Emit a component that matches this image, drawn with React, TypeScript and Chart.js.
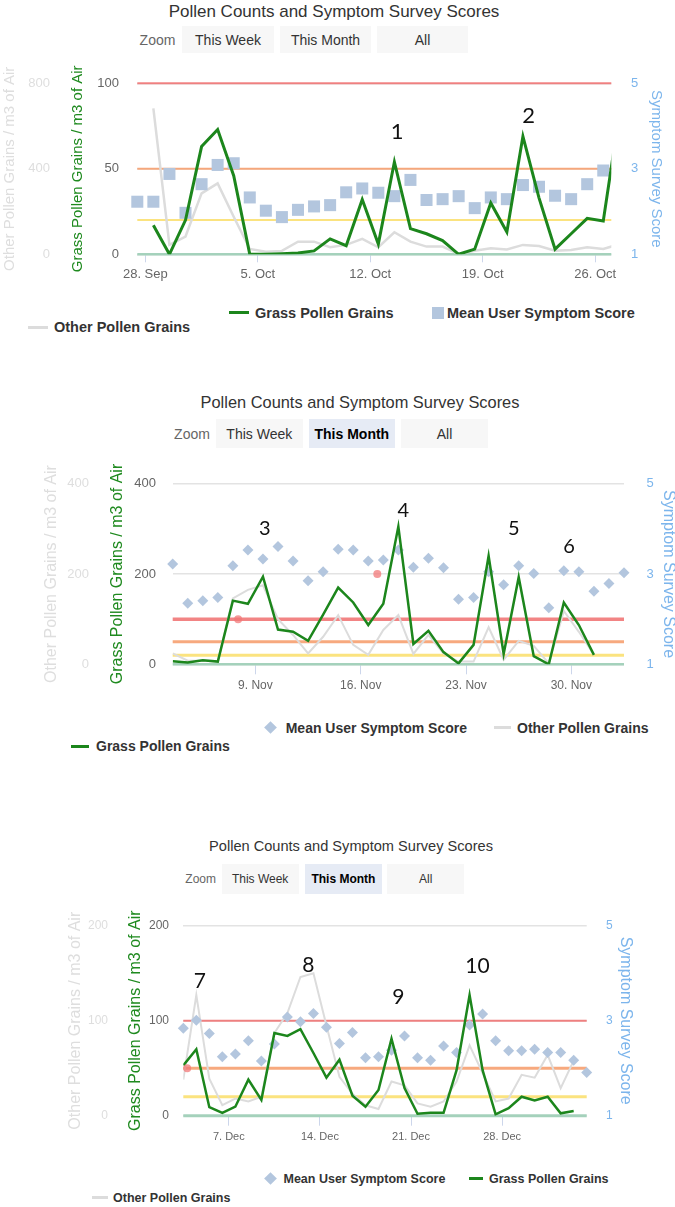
import React, { useEffect, useRef } from "react";
import { Chart, registerables } from "chart.js";

Chart.register(...registerables);

const FONT = "'Liberation Sans', Arial, Helvetica, sans-serif";
const NOTE_FONT = "Lato, 'Open Sans', sans-serif";
Chart.defaults.font.family = FONT;

// ---------------- shared text ----------------
const chartTitle = "Pollen Counts and Symptom Survey Scores";
const zoomButtons = ["This Week", "This Month", "All"];
const grassLabel = "Grass Pollen Grains";
const otherLabel = "Other Pollen Grains";
const scoreLabel = "Mean User Symptom Score";
const grassAxisTitle = "Grass Pollen Grains / m3 of Air";
const otherAxisTitle = "Other Pollen Grains / m3 of Air";
const scoreAxisTitle = "Symptom Survey Score";
const thresholdLevels = [100, 50, 20, 0];
const scoreTicks = [1, 3, 5];

// ---------------- chart 1 : Sep / Oct (day 0 = 28 Sep) ----------------
const octTickDays = [0, 7, 14, 21, 28];
const octTickLabels = ["28. Sep", "5. Oct", "12. Oct", "19. Oct", "26. Oct"];
const octGrassTicks = [0, 50, 100];
const octOtherTicks = [0, 400, 800];
const octGrassFirstDay = 0.5;
const octGrass = [17, 0, 20, 63, 73, 46, 0, 0, 0.3, 0.8, 2, 9, 5, 32, 6, 54, 15, 12, 8, 0, 3, 30, 13, 69, 33, 3, 12, 21, 19.5, 82];
const octOtherFirstDay = 0.5;
const octOther = [683, 44, 83, 285, 332, 176, 25, 12, 16, 59, 59, 33, 44, 72, 33, 103, 59, 36, 36, 2, 17, 28, 23, 44, 39, 17, 20, 33, 25, 47];
const octScoreFirstDay = -0.5;
const octScore = [2.23, 2.23, 2.88, 1.97, 2.64, 3.09, 3.13, 2.33, 2.02, 1.87, 2.04, 2.12, 2.15, 2.45, 2.54, 2.44, 2.36, 2.74, 2.27, 2.29, 2.36, 2.08, 2.33, 2.29, 2.62, 2.58, 2.37, 2.29, 2.64, 2.96];
const octDotDays: number[] = [];
const octDotLevels: number[] = [];
const octNoteTexts = ["1", "2"];
const octNoteDays = [15.67, 23.85];
const octNoteLevels = [71.5, 81];

// ---------------- chart 2 : Nov (day 0 = 9 Nov) ----------------
const novTickDays = [0, 7, 14, 21];
const novTickLabels = ["9. Nov", "16. Nov", "23. Nov", "30. Nov"];
const novGrassTicks = [0, 200, 400];
const novOtherTicks = [0, 200, 400];
const novGrassFirstDay = -5.5;
const novGrass = [7, 4, 9, 6, 141, 134, 194, 77, 72, 52, 110, 170, 137, 87, 134, 305, 45, 74, 27, 2, 43, 240, 23, 193, 18, 0, 137, 87, 21];
const novOtherFirstDay = -5.5;
const novOther = [24, 8, 8, 6, 146, 165, 175, 100, 65, 24, 61, 109, 43, 21, 76, 109, 23, 65, 24, 6, 6, 82, 10, 52, 41, 2, 118, 72, 21];
const novScoreFirstDay = -5.5;
const novScore = [3.22, 2.35, 2.41, 2.48, 3.18, 3.53, 3.33, 3.61, 3.29, 2.85, 3.05, 3.55, 3.53, 3.29, 3.31, 3.53, 3.15, 3.35, 3.14, 2.44, 2.48, 3.05, 2.76, 3.18, 3.01, 2.25, 3.07, 3.05, 2.62, 2.79, 3.03];
const novDotDays = [-1.15, 8.1];
const novDotLevels = [100, 200];
const novNoteTexts = ["3", "4", "5", "6"];
const novNoteDays = [0.62, 9.83, 17.18, 20.85];
const novNoteLevels = [300, 341, 300, 261];

// ---------------- chart 3 : Dec (day 0 = 7 Dec) ----------------
const decTickDays = [0, 7, 14, 21];
const decTickLabels = ["7. Dec", "14. Dec", "21. Dec", "28. Dec"];
const decGrassTicks = [0, 100, 200];
const decOtherTicks = [0, 100, 200];
const decGrassFirstDay = -3.5;
const decGrass = [53, 70, 9, 3, 9.5, 38, 16.5, 87, 84, 91, 66, 40, 59, 21, 9.5, 27, 81, 29, 2, 3, 3, 48, 127, 48, 1.5, 8, 20, 16, 20, 2.5, 5];
const decOtherFirstDay = -3.5;
const decOther = [38, 127, 39, 11, 18, 15, 20, 87, 108, 146, 150, 95, 41, 23, 11, 7, 36, 32, 13, 9.5, 15, 36, 74, 45, 15, 18, 43, 40, 64, 29, 58];
const decScoreFirstDay = -3.5;
const decScore = [2.84, 3.01, 2.73, 2.24, 2.3, 2.58, 2.15, 2.51, 3.08, 2.98, 3.15, 2.86, 2.52, 2.75, 2.22, 2.24, 2.38, 2.68, 2.22, 2.17, 2.47, 2.33, 2.91, 3.14, 2.58, 2.37, 2.37, 2.4, 2.33, 2.33, 2.17, 1.91];
const decDotDays = [-3.2];
const decDotLevels = [50];
const decNoteTexts = ["7", "8", "9", "10"];
const decNoteDays = [-2.22, 6.1, 13.02, 19.1];
const decNoteLevels = [142, 158, 124.6, 157];

// ---------------- styles ----------------
const GREEN = "#1c861c";
const OTHER_GRAY = "#dcdcdc";
const STEEL = "#b3c6de";
const PINK = "rgba(242,120,120,0.75)";
const LEVEL_COLORS = ["rgba(240,110,110,0.85)", "rgba(246,160,112,0.9)", "rgba(251,226,120,0.95)", "rgba(160,208,184,0.95)"];
const SCORE_BLUE = "#7cb5ec";

const pts = (first: number, values: number[]) => values.map((v, i) => ({ x: first + i, y: v }));
const pairs = (xs: number[], ys: number[]) => xs.map((x, i) => ({ x, y: ys[i] }));

const extrasPlugin = {
  id: "pollenExtras",
  beforeDatasetsDraw(chart: any, _a: any, opts: any) {
    const { ctx, chartArea } = chart;
    const y = chart.scales.grass;
    ctx.save();
    opts.levels.forEach((lv: number, i: number) => {
      const py = y.getPixelForValue(lv);
      ctx.strokeStyle = LEVEL_COLORS[i];
      ctx.lineWidth = opts.levelWidths[i];
      ctx.beginPath();
      ctx.moveTo(chartArea.left, py);
      ctx.lineTo(chartArea.right, py);
      ctx.stroke();
    });
    ctx.restore();
  },
  afterDatasetsDraw(chart: any, _a: any, opts: any) {
    const { ctx } = chart;
    const x = chart.scales.x;
    const y = chart.scales.grass;
    ctx.save();
    ctx.font = `${opts.noteSize}px ${NOTE_FONT}`;
    ctx.fillStyle = "#111";
    ctx.textAlign = "center";
    ctx.textBaseline = "middle";
    opts.noteTexts.forEach((t: string, i: number) => {
      ctx.fillText(t, x.getPixelForValue(opts.noteDays[i]), y.getPixelForValue(opts.noteLevels[i]));
    });
    ctx.restore();
  },
};

const specs = [
  {
    canvasTop: 50, canvasH: 250,
    pad: { left: 0, right: 0, top: 33.3, bottom: 5.7 },
    xMin: -0.5, xMax: 29.0,
    tickDays: octTickDays, tickLabels: octTickLabels,
    xAxisH: 40, tickLen: 8, xPad: 4.5, xFont: 13,
    grassTicks: octGrassTicks, otherTicks: octOtherTicks,
    other: { w: 66, pad: 16, pt: 0.5 }, grass: { w: 71.3, pad: 18.3, pt: 3 }, score: { w: 63.7, pad: 19.7, pt: 10 },
    titleFont: 15, yFont: 13,
    grassFirst: octGrassFirstDay, grassVals: octGrass,
    otherFirst: octOtherFirstDay, otherVals: octOther,
    scoreFirst: octScoreFirstDay, scoreVals: octScore,
    dots: pairs(octDotDays, octDotLevels),
    marker: "rect", markerR: 8.5, lineW: 3, otherW: 2.5,
    levelWidths: [2, 2, 2, 2.5],
    noteSize: 22, noteTexts: octNoteTexts, noteDays: octNoteDays, noteLevels: octNoteLevels,
    header: { titleX: 334, titleY: 10.5, titleSize: 17, zoomX: 157.5, zoomY: 39.5, btnSize: 14, btnX: [182, 280, 377], btnW: [92, 91, 91], btnTop: 26, btnH: 27, selected: -1 },
    legendSize: 14.5,
    legend: [
      { sym: "line", color: GREEN, x1: 228.6, x2: 249, cy: 312.5, tx: 255, text: grassLabel },
      { sym: "square", color: STEEL, cx: 437.5, cy: 312.5, tx: 447, text: scoreLabel },
      { sym: "line", color: OTHER_GRAY, x1: 28, x2: 48, cy: 327, tx: 54, text: otherLabel },
    ],
  },
  {
    canvasTop: 450, canvasH: 270,
    pad: { left: 40, right: 0, top: 33.7, bottom: 15.7 },
    xMin: -5.5, xMax: 24.5,
    tickDays: novTickDays, tickLabels: novTickLabels,
    xAxisH: 40, tickLen: 10, xPad: 4.5, xFont: 12,
    grassTicks: novGrassTicks, otherTicks: novOtherTicks,
    other: { w: 66, pad: 17, pt: 2.4 }, grass: { w: 66.7, pad: 16.7, pt: 2.4 }, score: { w: 51, pad: 22.5, pt: -2.6 },
    titleFont: 16, yFont: 13,
    grassFirst: novGrassFirstDay, grassVals: novGrass,
    otherFirst: novOtherFirstDay, otherVals: novOther,
    scoreFirst: novScoreFirstDay, scoreVals: novScore,
    dots: pairs(novDotDays, novDotLevels),
    marker: "rectRot", markerR: 5.5, lineW: 2.5, otherW: 2,
    levelWidths: [3.5, 3, 3, 2.5],
    noteSize: 20, noteTexts: novNoteTexts, noteDays: novNoteDays, noteLevels: novNoteLevels,
    header: { titleX: 360, titleY: 402, titleSize: 16.4, zoomX: 192, zoomY: 434, btnSize: 14, btnX: [215.6, 308.7, 401], btnW: [87.4, 86.3, 87], btnTop: 419, btnH: 29.3, selected: 1 },
    legendSize: 14,
    legend: [
      { sym: "diamond", color: STEEL, cx: 270.6, cy: 727.5, tx: 285.7, text: scoreLabel },
      { sym: "line", color: OTHER_GRAY, x1: 493.5, x2: 510.8, cy: 727.5, tx: 517, text: otherLabel },
      { sym: "line", color: GREEN, x1: 71.4, x2: 88.7, cy: 746, tx: 96, text: grassLabel },
    ],
  },
  {
    canvasTop: 890, canvasH: 270,
    pad: { left: 60, right: 40, top: 35.7, bottom: 4.3 },
    xMin: -3.5, xMax: 27.5,
    tickDays: decTickDays, tickLabels: decTickLabels,
    xAxisH: 40, tickLen: 10, xPad: 4.4, xFont: 11,
    grassTicks: decGrassTicks, otherTicks: decOtherTicks,
    other: { w: 62, pad: 14, pt: 6.2 }, grass: { w: 61.3, pad: 14.3, pt: 3.9 }, score: { w: 48.3, pad: 19.3, pt: 0 },
    titleFont: 16, yFont: 12,
    grassFirst: decGrassFirstDay, grassVals: decGrass,
    otherFirst: decOtherFirstDay, otherVals: decOther,
    scoreFirst: decScoreFirstDay, scoreVals: decScore,
    dots: pairs(decDotDays, decDotLevels),
    marker: "rectRot", markerR: 5.5, lineW: 2.5, otherW: 2,
    levelWidths: [2, 3, 3, 3],
    noteSize: 21, noteTexts: decNoteTexts, noteDays: decNoteDays, noteLevels: decNoteLevels,
    header: { titleX: 351, titleY: 845.5, titleSize: 14.6, zoomX: 200.7, zoomY: 879, btnSize: 12, btnX: [221.6, 305, 387.4], btnW: [77.1, 76.8, 76.6], btnTop: 864, btnH: 30, selected: 1 },
    legendSize: 12.5,
    legend: [
      { sym: "diamond", color: STEEL, cx: 270.6, cy: 1178.5, tx: 283.5, text: scoreLabel },
      { sym: "line", color: GREEN, x1: 469, x2: 483, cy: 1178.5, tx: 489, text: grassLabel },
      { sym: "line", color: OTHER_GRAY, x1: 92, x2: 108, cy: 1197.5, tx: 113, text: otherLabel },
    ],
  },
];

function buildConfig(s: any): any {
  const yAxis = (position: string, weight: number, ticks: number[], box: any, color: string, titleText: string, titleColor: string, grid: boolean) => ({
    type: "linear",
    position,
    weight,
    min: ticks[0],
    max: ticks[ticks.length - 1],
    afterBuildTicks: (sc: any) => { sc.ticks = ticks.map((v) => ({ value: v })); },
    afterFit: (sc: any) => { sc.width = box.w; },
    ticks: { padding: box.pad, color, font: { size: s.yFont } },
    grid: { display: grid, drawTicks: false, color: "#e3e3e3", lineWidth: 1.5 },
    border: { display: false },
    title: { display: true, text: titleText, color: titleColor, font: { size: s.titleFont }, padding: { top: box.pt, bottom: 0 } },
  });
  return {
    type: "line",
    data: {
      datasets: [
        { label: grassLabel, data: pts(s.grassFirst, s.grassVals), yAxisID: "grass", borderColor: GREEN, backgroundColor: GREEN, borderWidth: s.lineW, pointRadius: 0, tension: 0, order: 1 },
        { label: scoreLabel, data: pts(s.scoreFirst, s.scoreVals), yAxisID: "score", showLine: false, pointStyle: s.marker, pointRadius: s.markerR, backgroundColor: STEEL, borderColor: STEEL, pointBorderWidth: 0, clip: false, order: 2 },
        { label: otherLabel, data: pts(s.otherFirst, s.otherVals), yAxisID: "other", borderColor: OTHER_GRAY, backgroundColor: OTHER_GRAY, borderWidth: s.otherW, pointRadius: 0, tension: 0, order: 3 },
        { label: "markers", data: s.dots, yAxisID: "grass", showLine: false, pointStyle: "circle", pointRadius: 4, backgroundColor: PINK, borderColor: PINK, pointBorderWidth: 0, clip: false, order: 0 },
      ],
    },
    options: {
      responsive: false,
      animation: false,
      devicePixelRatio: 1,
      events: [],
      layout: { padding: s.pad },
      plugins: {
        legend: { display: false },
        tooltip: { enabled: false },
        pollenExtras: { levels: thresholdLevels, levelWidths: s.levelWidths, noteSize: s.noteSize, noteTexts: s.noteTexts, noteDays: s.noteDays, noteLevels: s.noteLevels },
      },
      scales: {
        x: {
          type: "linear",
          position: "bottom",
          min: s.xMin,
          max: s.xMax,
          afterBuildTicks: (sc: any) => { sc.ticks = s.tickDays.map((v: number) => ({ value: v })); },
          afterFit: (sc: any) => { sc.height = s.xAxisH; },
          ticks: { autoSkip: false, maxRotation: 0, padding: s.xPad, color: "#666", font: { size: s.xFont }, callback: (_v: any, i: number) => s.tickLabels[i] },
          grid: { display: true, drawOnChartArea: false, drawTicks: true, tickLength: s.tickLen, color: "#ccd6eb", lineWidth: 1 },
          border: { display: false },
        },
        other: yAxis("left", 2, s.otherTicks, s.other, "#dedede", otherAxisTitle, "#dedede", false),
        grass: yAxis("left", 1, s.grassTicks, s.grass, "#666", grassAxisTitle, "#1f8a1f", true),
        score: yAxis("right", 1, scoreTicks, s.score, SCORE_BLUE, scoreAxisTitle, SCORE_BLUE, false),
      },
    },
    plugins: [extrasPlugin],
  };
}

function PollenCanvas({ s }: { s: any }) {
  const ref = useRef<HTMLCanvasElement>(null);
  useEffect(() => {
    if (!ref.current) return;
    const chart = new Chart(ref.current, buildConfig(s));
    return () => chart.destroy();
  }, [s]);
  return (
    <canvas
      ref={ref}
      width={675}
      height={s.canvasH}
      style={{ position: "absolute", left: 0, top: s.canvasTop, width: 675, height: s.canvasH }}
    />
  );
}

function Header({ h }: { h: any }) {
  const centered: any = { position: "absolute", transform: "translate(-50%,-50%)", lineHeight: 1, whiteSpace: "nowrap", fontFamily: FONT };
  return (
    <>
      <div style={{ ...centered, left: h.titleX, top: h.titleY, fontSize: h.titleSize, color: "#333" }}>{chartTitle}</div>
      <div style={{ ...centered, left: h.zoomX, top: h.zoomY, fontSize: h.btnSize, color: "#666" }}>Zoom</div>
      {zoomButtons.map((b, i) => (
        <div
          key={b}
          style={{
            position: "absolute", left: h.btnX[i], top: h.btnTop, width: h.btnW[i], height: h.btnH,
            background: i === h.selected ? "#e6ebf5" : "#f7f7f7",
            display: "flex", alignItems: "center", justifyContent: "center",
            fontFamily: FONT, fontSize: h.btnSize, lineHeight: 1,
            fontWeight: i === h.selected ? "bold" : "normal", color: i === h.selected ? "#000" : "#333",
          }}
        >
          {b}
        </div>
      ))}
    </>
  );
}

function Legend({ items, size }: { items: any[]; size: number }) {
  return (
    <>
      {items.map((it, i) => {
        let sym: any = null;
        if (it.sym === "line") {
          sym = <div style={{ position: "absolute", left: it.x1, top: it.cy - 1.5, width: it.x2 - it.x1, height: 3, background: it.color }} />;
        } else if (it.sym === "square") {
          sym = <div style={{ position: "absolute", left: it.cx - 6, top: it.cy - 6, width: 12, height: 12, background: it.color }} />;
        } else {
          sym = <div style={{ position: "absolute", left: it.cx - 4.5, top: it.cy - 4.5, width: 9, height: 9, background: it.color, transform: "rotate(45deg)" }} />;
        }
        return (
          <React.Fragment key={i}>
            {sym}
            <div style={{ position: "absolute", left: it.tx, top: it.cy, transform: "translateY(-50%)", fontFamily: FONT, fontSize: size, fontWeight: "bold", color: "#333", lineHeight: 1, whiteSpace: "nowrap" }}>
              {it.text}
            </div>
          </React.Fragment>
        );
      })}
    </>
  );
}

export default function App() {
  return (
    <div style={{ position: "absolute", left: 0, top: 0, width: 675, height: 1207, overflow: "hidden", background: "#fff" }}>
      {specs.map((s, i) => (
        <React.Fragment key={i}>
          <Header h={s.header} />
          <PollenCanvas s={s} />
          <Legend items={s.legend} size={s.legendSize} />
        </React.Fragment>
      ))}
    </div>
  );
}
